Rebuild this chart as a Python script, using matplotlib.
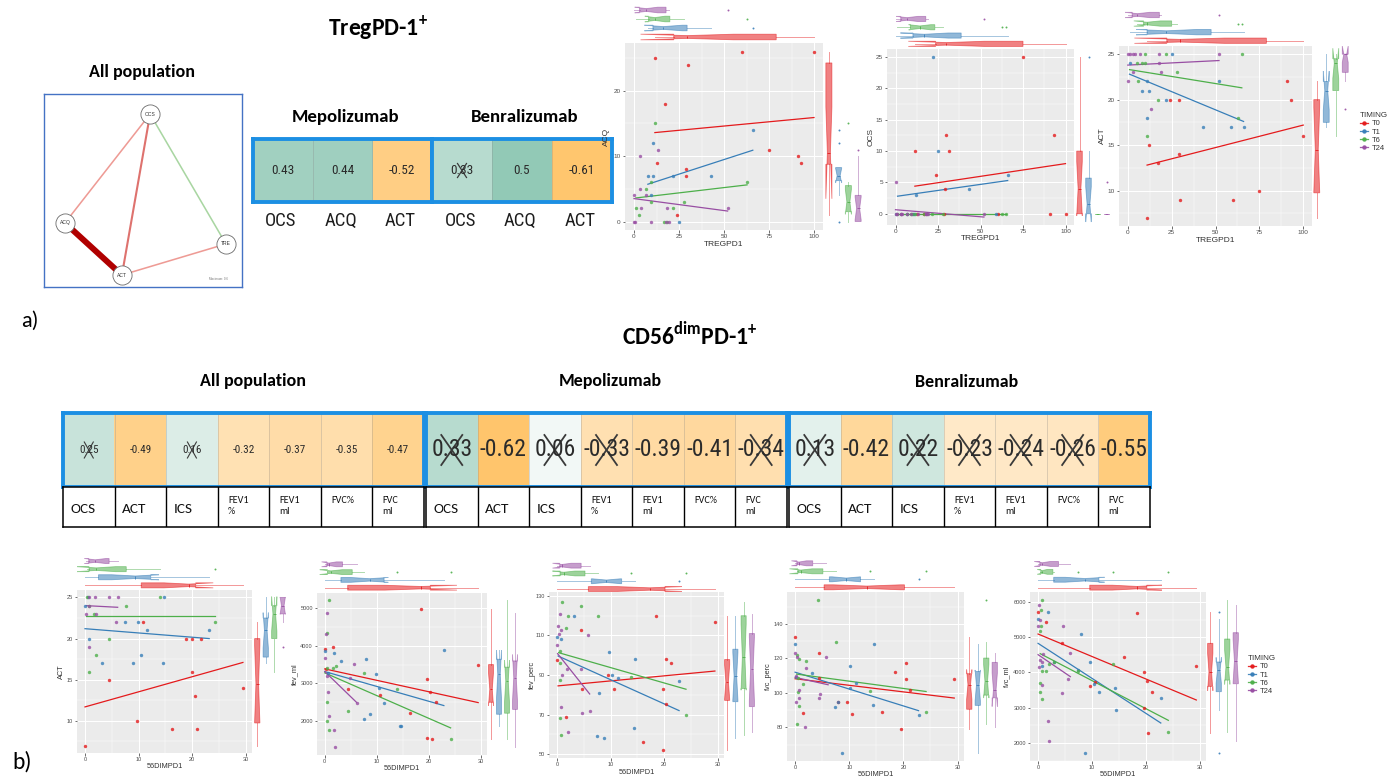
import numpy as np
import matplotlib
matplotlib.use("Agg")
import matplotlib.pyplot as plt
from matplotlib import font_manager
from matplotlib.colors import LinearSegmentedColormap, TwoSlopeNorm
from matplotlib.lines import Line2D

# ======================= DATA =======================
GROUPS = ["T0", "T1", "T6", "T24"]

# network "All population" (TregPD-1+): edge weights
net_nodes = ["OCS", "ACQ", "ACT", "TRE"]
net_edges = [("OCS", "ACQ", -0.22), ("OCS", "ACT", -0.30), ("OCS", "TRE", 0.22),
             ("ACQ", "ACT", -0.60), ("ACT", "TRE", -0.22)]

# correlation strips, panel a
treg_vars = ["OCS", "ACQ", "ACT"]
treg_mepo = [0.43, 0.44, -0.52]
treg_mepo_ns = [False, False, False]
treg_benra = [0.33, 0.5, -0.61]
treg_benra_ns = [True, False, False]

# correlation strips, panel b
cd56_vars = ["OCS", "ACT", "ICS", "FEV1\n%", "FEV1\nml", "FVC%", "FVC\nml"]
cd56_all = [0.25, -0.49, 0.16, -0.32, -0.37, -0.35, -0.47]
cd56_all_ns = [True, False, True, False, False, False, False]
cd56_mepo = [0.33, -0.62, 0.06, -0.33, -0.39, -0.41, -0.34]
cd56_mepo_ns = [True, False, True, True, False, False, True]
cd56_benra = [0.13, -0.42, 0.22, -0.23, -0.24, -0.26, -0.55]
cd56_benra_ns = [True, False, True, True, True, True, False]

# --- scatter a1: ACQ vs TREGPD1
acq_x = {"T0": [11.6, 29.9, 60.2, 100, 17.2, 12.5, 28.8, 29, 23.7, 75, 91, 92.7],
         "T1": [10.8, 7.5, 10.8, 21.8, 43, 66, 9.7, 25],
         "T6": [11.6, 9.7, 6.8, 62.8, 9.4, 28, 1, 21.5, 3, 16.9, 18.3],
         "T24": [13.2, 3.1, 3.5, 6.8, 0, 4, 18.2, 52, 9.4, 0, 0.7, 17.8, 19.3]}
acq_y = {"T0": [25, 24, 26, 26, 18, 9, 8, 7, 1, 11, 10, 9],
         "T1": [12, 7, 7, 7, 7, 14, 4, 0],
         "T6": [15, 6, 5, 6, 3, 3, 2, 2, 1, 0, 0],
         "T24": [11, 10, 5, 4, 4, 2, 2, 2, 0, 0, 0, 0, 0]}
acq_fit = {"T0": (11.6, 13.6, 100, 15.9), "T1": (7.7, 5.7, 66, 10.9),
           "T6": (1, 3.6, 62.8, 5.6), "T24": (0, 3.5, 52, 1.6)}

# --- scatter a2: OCS vs TREGPD1
ocs_x = {"T0": [75, 29.9, 11.4, 31.7, 23.6, 93.3, 28.9, 12.4, 28.5, 60.2, 91, 100, 17],
         "T1": [21.9, 25.2, 12, 43.1, 66.1, 0.5, 7, 10, 11, 59],
         "T6": [1, 3, 6.8, 9.4, 9.7, 11.6, 16.9, 18.3, 21.5, 28, 62.8, 65.2],
         "T24": [0, 0, 0.7, 3.1, 3.5, 4, 6.8, 9.4, 13.2, 17.8, 18.2, 19.3, 52]}
ocs_y = {"T0": [25, 12.5, 10, 10, 6.25, 12.5, 4, 0, 0, 0, 0, 0, 0],
         "T1": [25, 10, 3, 4, 6.25, 0, 0, 0, 0, 0],
         "T6": [0, 0, 0, 0, 0, 0, 0, 0, 0, 0, 0, 0],
         "T24": [5, 0, 0, 0, 0, 0, 0, 0, 0, 0, 0, 0, 0]}
ocs_fit = {"T0": (11.4, 4.4, 100, 8.0), "T1": (1.2, 2.8, 66, 5.3),
           "T6": (1, 0, 65, 0), "T24": (0, 0.64, 52, -0.53)}

# --- scatter a3: ACT vs TREGPD1
act_x = {"T0": [24, 29, 12, 29, 17, 30, 60, 75, 91, 93, 100, 11],
         "T1": [1, 25, 11, 52, 8, 12, 22, 11, 43, 59, 66],
         "T6": [10, 22, 65, 5, 8, 10, 6, 28, 17, 11, 63],
         "T24": [0, 1, 3, 4, 7, 18, 52, 0, 3, 18, 19, 13]}
act_y = {"T0": [20, 20, 15, 14, 13, 9, 9, 10, 22, 20, 16, 7],
         "T1": [24, 25, 22, 22, 21, 21, 20, 18, 17, 17, 17],
         "T6": [25, 25, 25, 24, 24, 24, 22, 23, 20, 16, 18],
         "T24": [25, 25, 25, 25, 25, 25, 25, 22, 23, 24, 23, 19]}
act_fit = {"T0": (11, 12.8, 100, 17.2), "T1": (1, 22.8, 66, 17.6),
           "T6": (1, 23.3, 65, 21.3), "T24": (0, 23.8, 52, 24.3)}

# --- scatter b1: ACT vs 56DIMPD1
b_act_x = {"T0": [0, 9.75, 10.75, 4.56, 18.8, 20, 21.6, 19.9, 20.6, 16.3, 20.9, 29.5],
           "T1": [0, 0.75, 3.1, 8.9, 9.9, 7.5, 11.5, 10.4, 14.6, 23.2, 14.7, 0.5],
           "T6": [14.1, 0.3, 0.75, 7.7, 1.7, 2.1, 4.4, 0.75, 24.2],
           "T24": [0.8, 1.9, 4.5, 6.1, 0.7, 0.2, 2.1, 5.7, 0.7]}
b_act_y = {"T0": [7, 10, 22, 15, 20, 20, 20, 16, 13, 9, 9, 14],
           "T1": [24, 20, 17, 17, 22, 22, 21, 18, 17, 21, 25, 25],
           "T6": [25, 25, 24, 24, 23, 18, 20, 16, 22],
           "T24": [25, 25, 25, 25, 24, 23, 23, 22, 19]}
b_act_fit = {"T0": (0, 11.7, 29.5, 17.1), "T1": (0, 21.2, 23.2, 20.0),
             "T6": (0.25, 22.8, 24.2, 22.8), "T24": (0.2, 24.0, 6.1, 23.8)}

# --- scatter b2: fev_ml vs 56DIMPD1
fevml_x = {"T0": [0, 1.5, 18.5, 19.7, 20.3, 21.3, 29.5, 16.3, 19.7, 20.6, 4.4, 10.6, 0.2],
           "T1": [0, 1.8, 3.1, 8, 9.9, 10.4, 11.4, 22.9, 8.6, 7.5, 14.4, 14.6, 0.6],
           "T6": [0.9, 0.5, 0.5, 1.5, 2.1, 7.6, 13.9, 4.5, 0.5, 0.5, 0.8, 24.2],
           "T24": [0.4, 0.3, 0, 0.7, 4.8, 5.7, 6.2, 0.8, 1.8, 2, 0.4]}
fevml_y = {"T0": [3914, 3976, 4974, 3111, 2785, 2502, 3500, 2220, 1549, 1523, 2846, 2705, 3394],
           "T1": [3861, 3800, 3588, 3641, 3243, 2873, 2493, 3888, 2184, 2070, 1876, 1876, 3280],
           "T6": [5212, 4347, 3420, 3420, 3465, 3280, 2846, 2282, 2511, 2000, 1770, 1531],
           "T24": [4859, 4320, 3676, 2785, 3155, 3517, 2493, 2132, 1761, 1328, 3200]}
fevml_fit = {"T0": (0, 3385, 29.5, 2493), "T1": (0, 3314, 22.9, 2414),
             "T6": (0, 3280, 24.2, 1823), "T24": (0, 3314, 6.1, 2500)}

# --- scatter b3: fev_perc vs 56DIMPD1
fevp_x = {"T0": [0, 4.4, 4.6, 1.6, 9.6, 10.6, 18.5, 20.3, 21.3, 19.8, 20.4, 16.1, 19.8, 29.5],
          "T1": [0, 0.8, 3.1, 9.75, 10.25, 11.3, 7.9, 14.6, 22.8, 14.4, 7.5, 8.7],
          "T6": [0.9, 2.1, 1.6, 7.7, 4.4, 0.5, 0.5, 0.5, 13.9, 24.1, 0.8, 0.6],
          "T24": [0.5, 0.25, 0.3, 0.8, 0, 0.9, 1.9, 4.5, 5.75, 4.7, 6.1, 2.1, 0.75]}
fevp_y = {"T0": [97.6, 113, 83, 68.5, 90, 83, 120, 97.9, 95.9, 83, 75.2, 56, 52.2, 117],
          "T1": [109, 108, 120, 101.4, 90, 88.7, 81, 98, 87, 63, 59, 58],
          "T6": [127, 120, 114, 120, 125, 102, 96, 87.6, 89, 70, 59.6, 68],
          "T24": [121, 115, 111, 113, 105, 90, 93, 93, 110, 71, 72, 61, 74]}
fevp_fit = {"T0": (0.2, 84.5, 29.5, 92), "T1": (0.2, 99.6, 22.8, 72),
            "T6": (0.3, 101.3, 24.1, 82.8), "T24": (0.1, 100.8, 6.1, 80.4)}

# --- scatter b4: fvc_perc vs 56DIMPD1
fvcp_x = {"T0": [0, 4.4, 1.5, 7.9, 9.6, 10.5, 16, 18.4, 20.4, 20.5, 21.3, 19.6, 29.4, 4.5],
          "T1": [0, 3.1, 10.2, 11.3, 14.6, 7.4, 8, 10.2, 14.4, 22.8, 8.7, 0.2],
          "T6": [4.3, 7.6, 2, 0.4, 0.5, 0.5, 0.7, 0.4, 1.4, 13.9, 24.2, 0.7],
          "T24": [0, 0.4, 2, 5.7, 0.2, 0.7, 0.25, 4.6, 4.5, 1.9, 0.7]}
fvcp_y = {"T0": [132.2, 123, 88.2, 95, 95, 88, 89, 112, 117.3, 108, 101.7, 79.2, 108, 108.5],
          "T1": [128.3, 111.5, 115.3, 106, 128.3, 92, 95, 102.7, 93, 87.2, 65, 109.5],
          "T6": [154, 129.3, 118.3, 122, 108.5, 100.8, 92.4, 82, 105, 101, 89.1, 119.6],
          "T24": [123, 121, 114.4, 121, 110, 101.8, 95, 99.6, 97, 80, 97.3]}
fvcp_fit = {"T0": (0, 108.2, 29.4, 97), "T1": (0, 112, 22.8, 89.7),
            "T6": (0.25, 110.9, 24.2, 100.8), "T24": (0, 109, 6.1, 104.7)}

# --- scatter b5: fvc_ml vs 56DIMPD1
fvcml_x = {"T0": [0, 1.5, 4.5, 18.4, 16, 19.7, 20.2, 21.2, 9.6, 10.5, 19.7, 20.5, 29.4],
           "T1": [0, 1.9, 7.9, 9.7, 2.9, 0.7, 7.5, 10.3, 11.3, 14.3, 14.5, 22.8, 8.7],
           "T6": [0.8, 0.5, 0.5, 0.4, 0.7, 0.4, 0.4, 0.75, 1.5, 2, 3, 7.5, 13.9, 24.2],
           "T24": [0.2, 0.3, 0, 4.6, 0.4, 0.2, 0.9, 0.7, 6, 5.6, 4.4, 1.8, 2, 0.7]}
fvcml_y = {"T0": [5726, 5423, 4827, 5678, 4440, 4014, 3768, 3456, 3607, 3720, 3002, 2274, 4175],
           "T1": [5508, 5707, 5092, 4298, 4298, 4175, 4061, 3683, 3456, 3551, 2946, 3267, 1707],
           "T6": [6066, 5782, 5319, 5168, 4052, 3702, 3456, 3248, 4033, 4250, 4298, 4033, 4250, 2321],
           "T24": [5905, 5489, 5319, 5319, 4364, 4147, 4525, 4288, 4563, 3816, 3409, 2624, 2057, 3636]}
fvcml_fit = {"T0": (0, 5092, 29.4, 3220), "T1": (0, 4827, 22.8, 2567),
             "T6": (0.4, 4534, 24.2, 2643), "T24": (0, 4506, 6, 3882)}

# ======================= STYLE =======================
W, H = 1397, 784
COL = {"T0": "#E41A1C", "T1": "#377EB8", "T6": "#4DAF4A", "T24": "#984EA3"}
BLUE = "#1C8FE3"

names = {f.name for f in font_manager.fontManager.ttflist}
HEAD = "Carlito" if "Carlito" in names else "Lato"
NARROW = "Liberation Sans Narrow" if "Liberation Sans Narrow" in names else (
    "Roboto Condensed" if "Roboto Condensed" in names else "Liberation Sans")
GG = "Liberation Sans"

plt.rcParams["font.family"] = [GG, "DejaVu Sans"]
plt.rcParams["mathtext.fontset"] = "custom"
plt.rcParams["mathtext.rm"] = HEAD
plt.rcParams["mathtext.bf"] = HEAD + ":bold"

cmap = LinearSegmentedColormap.from_list(
    "corr", [(0.0, "#FFC264"), (0.5, "#FFFFFF"), (1.0, "#86C3AE")])
norm = TwoSlopeNorm(vmin=-0.66, vcenter=0.0, vmax=0.56)

fig = plt.figure(figsize=(W / 100, H / 100), dpi=100)


def R(x0, y0, x1, y1):
    return [x0 / W, 1 - y1 / H, (x1 - x0) / W, (y1 - y0) / H]


def T(x, y, s, **kw):
    kw.setdefault("ha", "center")
    kw.setdefault("va", "center")
    fig.text(x / W, 1 - y / H, s, **kw)


# ======================= PANEL a: network =======================
net_layout = {"OCS": (0.537, 0.896), "ACQ": (0.108, 0.332),
              "ACT": (0.395, 0.062), "TRE": (0.919, 0.223)}
axn = fig.add_axes(R(43.5, 94, 242, 287))
axn.set_xlim(0, 1)
axn.set_ylim(0, 1)
axn.set_xticks([])
axn.set_yticks([])
for s in axn.spines.values():
    s.set_color("#4472C4")
    s.set_linewidth(1.0)
wmax = max(abs(w) for _, _, w in net_edges)
for a, b, w in net_edges:
    k = (abs(w) - 0.2) / (wmax - 0.2)
    if w > 0:
        c = "#A9D6A2"
    else:
        c0 = np.array([0xF4, 0xAA, 0xA4]) / 255
        c1 = np.array([0xB0, 0x00, 0x00]) / 255
        c = c0 + (c1 - c0) * min(1.0, k ** 0.8)
    (xa, ya), (xb, yb) = net_layout[a], net_layout[b]
    axn.plot([xa, xb], [ya, yb], color=c, lw=1.1 + 3.2 * k ** 1.5,
             solid_capstyle="butt", zorder=1)
for n in net_nodes:
    x, y = net_layout[n]
    axn.scatter([x], [y], s=190, facecolor="white", edgecolor="#6A6A6A",
                lw=0.6, zorder=3)
    axn.text(x, y, n, fontsize=3.6, ha="center", va="center", color="#333333", zorder=4)
axn.text(0.93, 0.03, "Maximum: 0.6", fontsize=2.2, ha="right", va="bottom", color="#777777")


# ======================= heat strips =======================
def heat(x0, y0, x1, y1, vals, ns, fs, xw, xh, xlw):
    n = len(vals)
    ax = fig.add_axes(R(x0, y0, x1, y1))
    ax.imshow(np.array(vals, float)[None, :], cmap=cmap, norm=norm, aspect="auto",
              extent=(-0.5, n - 0.5, -0.5, 0.5), interpolation="nearest")
    for i in range(1, n):
        ax.plot([i - 0.5, i - 0.5], [-0.5, 0.5], color="#8A8A8A", alpha=0.35, lw=0.6)
    cw = (x1 - x0) / n
    ch = (y1 - y0)
    for i, (v, c) in enumerate(zip(vals, ns)):
        ax.text(i, 0, f"{v:g}", ha="center", va="center", fontsize=fs,
                family=NARROW, color="#2B2B2B")
        if c:
            dx, dy = xw / cw, xh / ch
            ax.plot([i - dx, i + dx], [-dy, dy], color="#3A3A3A", lw=xlw)
            ax.plot([i - dx, i + dx], [dy, -dy], color="#3A3A3A", lw=xlw)
    ax.set_xlim(-0.5, n - 0.5)
    ax.set_ylim(-0.5, 0.5)
    ax.set_xticks([])
    ax.set_yticks([])
    for s in ax.spines.values():
        s.set_color(BLUE)
        s.set_linewidth(2.8)
    return ax


def label_table(x0, y0, x1, y1, labels):
    n = len(labels)
    ax = fig.add_axes(R(x0, y0, x1, y1))
    ax.set_xlim(0, n)
    ax.set_ylim(0, 1)
    ax.set_xticks([])
    ax.set_yticks([])
    for i in range(1, n):
        ax.plot([i, i], [0, 1], color="black", lw=1.0)
    for s in ax.spines.values():
        s.set_color("black")
        s.set_linewidth(1.1)
    for i, lab in enumerate(labels):
        if len(lab) <= 3:
            ax.text(i + 0.15, 0.44, lab, fontsize=11, family=HEAD,
                    ha="left", va="center", color="#111111")
        else:
            ax.text(i + 0.2, 0.78, lab, fontsize=7.3, family=HEAD, ha="left",
                    va="top", color="#111111", linespacing=1.25)


# panel a strips
heat(253, 139, 432, 202, treg_mepo, treg_mepo_ns, 9.5, 4.5, 7, 0.9)
heat(432, 139, 612, 202, treg_benra, treg_benra_ns, 9.5, 4.5, 7, 0.9)
for k, lab in enumerate(treg_vars + treg_vars):
    cx = 253 + (k + 0.5) * (612 - 253) / 6 - 2
    T(cx, 221, lab, fontsize=13.5, family=NARROW, color="#1E1E1E")

# panel b strips
heat(63, 413, 424, 487, cd56_all, cd56_all_ns, 8, 4.5, 8, 0.8)
heat(426, 413, 787, 487, cd56_mepo, cd56_mepo_ns, 17, 10.5, 15, 1.3)
heat(789, 413, 1150, 487, cd56_benra, cd56_benra_ns, 17, 10.5, 15, 1.3)
label_table(63, 487, 424, 527, cd56_vars)
label_table(426, 487, 787, 527, cd56_vars)
label_table(789, 487, 1150, 527, cd56_vars)

# headings
T(378, 28, r"TregPD-1$^{\mathbf{+}}$", fontsize=17, fontweight="bold", family=HEAD)
T(142, 72, "All population", fontsize=13, fontweight="bold", family=HEAD)
T(346, 117, "Mepolizumab", fontsize=13.5, fontweight="bold", family=HEAD)
T(525, 117, "Benralizumab", fontsize=13.5, fontweight="bold", family=HEAD)
T(30, 321, "a)", fontsize=16, family=HEAD)
T(690, 335, r"CD56$^{\mathbf{dim}}$PD-1$^{\mathbf{+}}$", fontsize=17, fontweight="bold", family=HEAD)
T(253, 381, "All population", fontsize=13, fontweight="bold", family=HEAD)
T(610, 381, "Mepolizumab", fontsize=13, fontweight="bold", family=HEAD)
T(967, 382, "Benralizumab", fontsize=13, fontweight="bold", family=HEAD)
T(22, 762, "b)", fontsize=17, family=HEAD)


# ======================= scatter blocks =======================
def minor_of(t, lim):
    step = t[1] - t[0]
    cand = [t[0] - step / 2] + [(a + b) / 2 for a, b in zip(t[:-1], t[1:])] + [t[-1] + step / 2]
    return [c for c in cand if lim[0] <= c <= lim[1]]


def boxes(ax, data, orient):
    bp = ax.boxplot(data, positions=[1, 2, 3, 4], orientation=orient, notch=True,
                    patch_artist=True, widths=0.62, showcaps=False, whis=1.5,
                    manage_ticks=False)
    for i, g in enumerate(GROUPS):
        c = COL[g]
        bp["boxes"][i].set(facecolor=c, alpha=0.55, edgecolor=c, linewidth=0.6)
        for w in bp["whiskers"][2 * i:2 * i + 2]:
            w.set(color=c, alpha=0.45, lw=0.7)
        bp["medians"][i].set(color=c, lw=0.6)
        bp["fliers"][i].set(marker="o", markersize=1.4, markerfacecolor=c,
                            markeredgewidth=0, alpha=0.9)


def block(main, top, right, xs, ys, fits, xlim, ylim, xticks, yticks,
          xlabel, ylabel, ylab_x, tfs, lfs):
    ax = fig.add_axes(R(*main))
    ax.set_facecolor("#EBEBEB")
    ax.set_xlim(xlim)
    ax.set_ylim(ylim)
    ax.set_xticks(xticks)
    ax.set_yticks(yticks)
    ax.set_xticks(minor_of(xticks, xlim), minor=True)
    ax.set_yticks(minor_of(yticks, ylim), minor=True)
    ax.grid(True, which="major", color="white", lw=0.75)
    ax.grid(True, which="minor", color="white", lw=0.35)
    ax.set_axisbelow(True)
    for s in ax.spines.values():
        s.set_visible(False)
    ax.tick_params(which="major", length=1.8, width=0.5, color="#333333",
                   labelsize=tfs, labelcolor="#4D4D4D", pad=1.2)
    ax.tick_params(which="minor", length=0)
    for g in GROUPS:
        x0, y0, x1, y1 = fits[g]
        ax.plot([x0, x1], [y0, y1], color=COL[g], lw=0.9, zorder=2)
        ax.scatter(xs[g], ys[g], s=6, color=COL[g], alpha=0.8, lw=0, zorder=3)
    T((main[0] + main[2]) / 2, main[3] + 14, xlabel, fontsize=lfs, color="#333333")
    T(ylab_x, (main[1] + main[3]) / 2, ylabel, fontsize=lfs, color="#333333", rotation=90)

    axt = fig.add_axes(R(*top))
    axt.set_xlim(xlim)
    axt.set_ylim(0.5, 4.5)
    axt.axis("off")
    boxes(axt, [xs[g] for g in GROUPS], "horizontal")

    axr = fig.add_axes(R(*right))
    axr.set_ylim(ylim)
    axr.set_xlim(0.5, 4.5)
    axr.axis("off")
    boxes(axr, [ys[g] for g in GROUPS], "vertical")
    return ax


def legend(x, y, fs):
    handles = [Line2D([0], [0], color=COL[g], marker="o", ms=2.2, lw=0.9, alpha=0.9)
               for g in GROUPS]
    lg = fig.legend(handles, GROUPS, title="TIMING", loc="upper left",
                    bbox_to_anchor=(x / W, 1 - y / H), frameon=False, fontsize=fs,
                    title_fontsize=fs + 0.3, handlelength=1.0, handletextpad=0.5,
                    labelspacing=0.12, borderaxespad=0, borderpad=0, alignment="left")
    for t in lg.get_texts():
        t.set_color("#333333")
    lg.get_title().set_color("#333333")


xt_treg = [0, 25, 50, 75, 100]
block((625, 43, 823, 230), (625, 5.5, 823, 41.5), (824, 43, 863, 230),
      acq_x, acq_y, acq_fit, (-5, 105), (-1.3, 27.3), xt_treg, [0, 10, 20],
      "TREGPD1", "ACQ", 606, 4.6, 6)
block((887, 49, 1074, 225), (887, 14.8, 1074, 48), (1075, 49, 1111, 225),
      ocs_x, ocs_y, ocs_fit, (-5, 105), (-1.8, 26.3), xt_treg, [0, 5, 10, 15, 20, 25],
      "TREGPD1", "OCS", 871, 4.6, 6)
block((1119, 46, 1312, 226), (1119, 10.7, 1312, 45), (1312, 46, 1350, 226),
      act_x, act_y, act_fit, (-5, 105), (6.1, 25.9), xt_treg, [10, 15, 20, 25],
      "TREGPD1", "ACT", 1102, 4.6, 6)
legend(1360, 112, 5.5)

xt_cd = [0, 10, 20, 30]
block((77, 590, 252, 753), (77, 557, 252, 589.4), (253, 590, 287, 753),
      b_act_x, b_act_y, b_act_fit, (-1.5, 31.2), (6.1, 25.9), xt_cd, [10, 15, 20, 25],
      "56DIMPD1", "ACT", 61, 4.1, 5.3)
block((317, 593, 487, 755), (317, 560.4, 487, 591.6), (487, 593, 519, 755),
      fevml_x, fevml_y, fevml_fit, (-1.5, 31.2), (1105, 5395), xt_cd, [2000, 3000, 4000, 5000],
      "56DIMPD1", "fev_ml", 295, 4.1, 5.3)
block((549, 592, 724, 758), (549, 561.8, 724, 592.9), (723, 592, 756, 758),
      fevp_x, fevp_y, fevp_fit, (-1.5, 31.2), (48, 132), xt_cd, [50, 70, 90, 110, 130],
      "56DIMPD1", "fev_perc", 532, 4.1, 5.3)
block((787, 592, 964, 761), (787, 559.3, 964, 591.3), (965, 592, 999, 761),
      fvcp_x, fvcp_y, fvcp_fit, (-1.5, 31.2), (60.5, 158.5), xt_cd, [80, 100, 120, 140],
      "56DIMPD1", "fvc_perc", 768, 4.1, 5.3)
block((1030, 592, 1206, 761), (1030, 560, 1206, 591.6), (1206, 592, 1240, 761),
      fvcml_x, fvcml_y, fvcml_fit, (-1.5, 31.2), (1489, 6284), xt_cd,
      [2000, 3000, 4000, 5000, 6000],
      "56DIMPD1", "fvc_ml", 1007, 4.1, 5.3)
legend(1248, 655, 5.5)

fig.savefig("out.png", dpi=100)
